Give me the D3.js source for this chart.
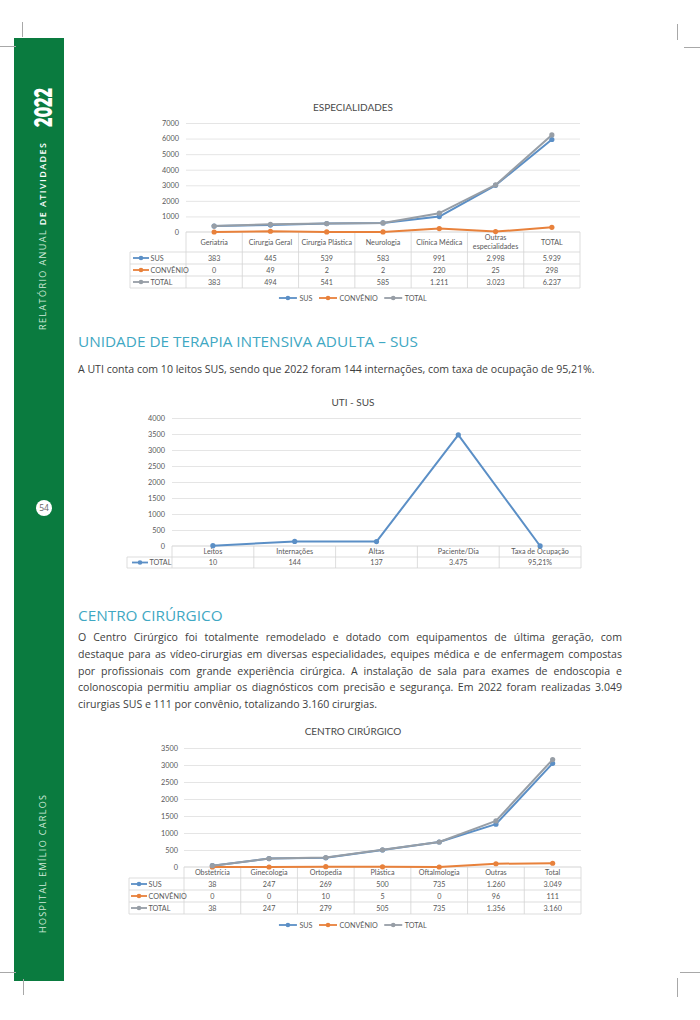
<!DOCTYPE html>
<html><head><meta charset="utf-8">
<script src="https://cdn.jsdelivr.net/npm/d3@7"></script>
<style>body{margin:0;background:#fff}svg{display:block}</style>
</head><body>
<svg id="page" width="700" height="1020"></svg>
<script>
// ---------- DATA ----------
const seriesNames = ["SUS", "CONVÊNIO", "TOTAL"];
const seriesColors = ["#5b8fc6", "#e8813b", "#979ea6"];

const espCategories = ["Geriatria", "Cirurgia Geral", "Cirurgia Plástica", "Neurologia", "Clínica Médica", "Outras especialidades", "TOTAL"];
const espSus   = [383, 445, 539, 583, 991, 2998, 5939];
const espConv  = [0, 49, 2, 2, 220, 25, 298];
const espTotal = [383, 494, 541, 585, 1211, 3023, 6237];
const espTicks = [0, 1000, 2000, 3000, 4000, 5000, 6000, 7000];

const utiCategories = ["Leitos", "Internações", "Altas", "Paciente/Dia", "Taxa de Ocupação"];
const utiTotal  = [10, 144, 137, 3475, 0.9521];
const utiLabels = ["10", "144", "137", "3.475", "95,21%"];
const utiTicks  = [0, 500, 1000, 1500, 2000, 2500, 3000, 3500, 4000];

const ccCategories = ["Obstetrícia", "Ginecologia", "Ortopedia", "Plástica", "Oftalmologia", "Outras", "Total"];
const ccSus   = [38, 247, 269, 500, 735, 1260, 3049];
const ccConv  = [0, 0, 10, 5, 0, 96, 111];
const ccTotal = [38, 247, 279, 505, 735, 1356, 3160];
const ccTicks = [0, 500, 1000, 1500, 2000, 2500, 3000, 3500];

const utiHeading = "UNIDADE DE TERAPIA INTENSIVA ADULTA – SUS";
const utiText = "A UTI conta com 10 leitos SUS, sendo que 2022 foram 144 internações, com taxa de ocupação de 95,21%.";
const ccHeading = "CENTRO CIRÚRGICO";
const ccLines = [
  "O Centro Cirúrgico foi totalmente remodelado e dotado com equipamentos de última geração, com",
  "destaque para as vídeo-cirurgias em diversas especialidades, equipes médica e de enfermagem compostas",
  "por profissionais com grande experiência cirúrgica. A instalação de sala para exames de endoscopia e",
  "colonoscopia permitiu ampliar os diagnósticos com precisão e segurança. Em 2022 foram realizadas 3.049",
  "cirurgias SUS e 111 por convênio, totalizando 3.160 cirurgias."
];

// ---------- SETUP ----------
const ptBR = d3.formatLocale({decimal: ",", thousands: ".", grouping: [3], currency: ["R$", ""]});
const fmt = ptBR.format(",d");
const chartFont = "Lato, 'Open Sans', sans-serif";
const textFont = "'Open Sans', 'Noto Sans', sans-serif";
const svg = d3.select("#page");

// ---------- PAGE DECOR ----------
const green = "#0a7b3f";
svg.append("rect").attr("x", 14).attr("y", 38).attr("width", 50).attr("height", 943).attr("fill", green);

const marks = [
  [22.5, 22, 22.5, 37], [0, 46.5, 16, 46.5],
  [677.5, 24, 677.5, 40], [684, 47.5, 700, 47.5],
  [0, 972.5, 16, 972.5], [23.5, 979, 23.5, 995],
  [680, 972.5, 700, 972.5], [677.5, 978, 677.5, 997]
];
svg.append("g").selectAll("line").data(marks).join("line")
  .attr("x1", d => d[0]).attr("y1", d => d[1]).attr("x2", d => d[2]).attr("y2", d => d[3])
  .attr("stroke", "#a8a8a8").attr("stroke-width", 1);

svg.append("text").attr("transform", "translate(52,127) rotate(-90)")
  .attr("font-family", "Montserrat, 'Open Sans', sans-serif").attr("font-weight", 800)
  .attr("font-size", 25).attr("fill", "#fff")
  .attr("textLength", 39).attr("lengthAdjust", "spacingAndGlyphs").text("2022");

const rel = svg.append("text").attr("transform", "translate(45.5,330) rotate(-90)")
  .attr("font-family", textFont).attr("font-size", 9)
  .attr("textLength", 187).attr("lengthAdjust", "spacing");
rel.append("tspan").attr("fill", "#cfe9d8").text("RELATÓRIO ANUAL ");
rel.append("tspan").attr("fill", "#ffffff").attr("font-weight", 600).text("DE ATIVIDADES");

svg.append("text").attr("transform", "translate(46,933) rotate(-90)")
  .attr("font-family", textFont).attr("font-size", 9).attr("fill", "#cfe9d8")
  .attr("textLength", 138).attr("lengthAdjust", "spacing").text("HOSPITAL EMÍLIO CARLOS");

svg.append("circle").attr("cx", 44).attr("cy", 508).attr("r", 8).attr("fill", "#fff");
svg.append("text").attr("x", 44).attr("y", 511).attr("text-anchor", "middle")
  .attr("font-family", textFont).attr("font-size", 8.5).attr("fill", "#666").text("54");

// ---------- BODY TEXT ----------
function measure(str, size, weight, family) {
  const t = svg.append("text").attr("font-family", family).attr("font-size", size)
    .attr("font-weight", weight || 400).text(str);
  const w = t.node().getComputedTextLength();
  t.remove();
  return w;
}
const headSize = 12 * 340 / measure(utiHeading, 12, 400, textFont);
const bodySize = 10 * 517 / measure(utiText, 10, 400, textFont);
const headColor = "#3fa8c3", bodyColor = "#3d3d3d";

svg.append("text").attr("x", 78).attr("y", 346.5).attr("font-family", textFont)
  .attr("font-size", headSize).attr("fill", headColor).text(utiHeading);
svg.append("text").attr("x", 78).attr("y", 372.5).attr("font-family", textFont)
  .attr("font-size", bodySize).attr("fill", bodyColor).text(utiText);

svg.append("text").attr("x", 78).attr("y", 620.5).attr("font-family", textFont)
  .attr("font-size", headSize).attr("fill", headColor).text(ccHeading);
ccLines.forEach((ln, i) => {
  const t = svg.append("text").attr("x", 78).attr("y", 641 + i * 16.8)
    .attr("font-family", textFont).attr("font-size", bodySize).attr("fill", bodyColor).text(ln);
  if (i < ccLines.length - 1) {
    const L = t.node().getComputedTextLength();
    const n = (ln.match(/ /g) || []).length;
    t.style("word-spacing", ((544 - L) / n) + "px");
  }
});

// ---------- CHARTS ----------
function drawChart(o) {
  const g = svg.append("g");
  const x = d3.scaleBand().domain(o.categories).range([o.x0, o.x1]);
  const y = d3.scaleLinear().domain([0, d3.max(o.ticks)]).range([o.y0, o.yTop]);
  const bw = x.bandwidth();
  const cx = c => x(c) + bw / 2;
  const hs = 7.2;
  const txt = "#595959";

  // title
  g.append("text").attr("x", o.titleX).attr("y", o.titleY).attr("text-anchor", "middle")
    .attr("font-family", chartFont).attr("font-weight", 400).attr("font-size", 10)
    .attr("fill", "#4a4a4a").text(o.title);

  // gridlines
  g.append("g").attr("transform", `translate(${o.x0},0)`)
    .call(d3.axisLeft(y).tickValues(o.ticks.filter(t => t > 0)).tickSize(-(o.x1 - o.x0)).tickFormat(""))
    .call(a => a.select(".domain").remove())
    .call(a => a.selectAll("line").attr("stroke", "#dedede").attr("stroke-width", 0.8));

  // y labels
  g.append("g").attr("transform", `translate(${o.x0},0)`)
    .call(d3.axisLeft(y).tickValues(o.ticks).tickSize(0).tickPadding(o.pad).tickFormat(d3.format("d")))
    .call(a => a.select(".domain").remove())
    .call(a => a.selectAll("text").attr("font-family", chartFont).attr("font-size", 7.3).attr("fill", txt));

  // table
  const n = o.series.length;
  const tableBottom = o.headerBottom + n * o.rowH;
  const tl = g.append("g").attr("stroke", "#d4d4d4").attr("stroke-width", 0.8);
  tl.append("line").attr("x1", o.x0).attr("x2", o.x1).attr("y1", o.y0).attr("y2", o.y0).attr("stroke", "#c8c8c8");
  d3.range(n + 1).forEach(i => {
    const yy = o.headerBottom + i * o.rowH;
    tl.append("line").attr("x1", o.left).attr("x2", o.x1).attr("y1", yy).attr("y2", yy);
  });
  o.categories.concat([null]).forEach(c => {
    const xx = c === null ? o.x1 : x(c);
    tl.append("line").attr("x1", xx).attr("x2", xx).attr("y1", o.y0).attr("y2", tableBottom);
  });
  tl.append("line").attr("x1", o.left).attr("x2", o.left).attr("y1", o.headerBottom).attr("y2", tableBottom);

  // header labels (wrapped if too wide)
  o.categories.forEach(c => {
    let lines = [c];
    if (measure(c, hs, 400, chartFont) > bw - 3) {
      const words = c.split(" ");
      lines = [words[0], words.slice(1).join(" ")];
    }
    const mid = (o.y0 + o.headerBottom) / 2;
    lines.forEach((ln, i) => {
      g.append("text").attr("x", cx(c)).attr("y", mid + (i - (lines.length - 1) / 2) * 8.4 + 2.5)
        .attr("text-anchor", "middle").attr("font-family", chartFont).attr("font-size", hs)
        .attr("fill", txt).text(ln);
    });
  });

  // rows
  o.series.forEach((s, i) => {
    const ym = o.headerBottom + (i + 0.5) * o.rowH;
    const kx = o.left + o.keyOff;
    g.append("line").attr("x1", kx).attr("x2", kx + 16).attr("y1", ym).attr("y2", ym)
      .attr("stroke", s.color).attr("stroke-width", 1.8);
    g.append("circle").attr("cx", kx + 8).attr("cy", ym).attr("r", 2.3).attr("fill", s.color);
    g.append("text").attr("x", kx + 17.5).attr("y", ym + 2.5).attr("font-family", chartFont)
      .attr("font-size", hs).attr("fill", txt).text(s.name);
    o.categories.forEach((c, j) => {
      g.append("text").attr("x", cx(c)).attr("y", ym + 2.5).attr("text-anchor", "middle")
        .attr("font-family", chartFont).attr("font-size", hs).attr("fill", txt)
        .text(s.labels[j]);
    });
  });

  // lines
  const line = d3.line().x((d, j) => cx(o.categories[j])).y(d => y(d));
  o.series.forEach(s => {
    g.append("path").attr("d", line(s.values)).attr("fill", "none")
      .attr("stroke", s.color).attr("stroke-width", 2).attr("stroke-linejoin", "round");
    g.append("g").selectAll("circle").data(s.values).join("circle")
      .attr("cx", (d, j) => cx(o.categories[j])).attr("cy", d => y(d)).attr("r", 2.6).attr("fill", s.color);
  });

  // legend
  if (o.legendY) {
    const items = o.series.map(s => ({s, w: 21 + measure(s.name, hs, 400, chartFont)}));
    const gap = 6;
    const total = d3.sum(items, d => d.w) + gap * (items.length - 1);
    let lx = o.titleX - total / 2;
    items.forEach(it => {
      g.append("line").attr("x1", lx).attr("x2", lx + 18).attr("y1", o.legendY).attr("y2", o.legendY)
        .attr("stroke", it.s.color).attr("stroke-width", 1.8);
      g.append("circle").attr("cx", lx + 9).attr("cy", o.legendY).attr("r", 2.3).attr("fill", it.s.color);
      g.append("text").attr("x", lx + 20.5).attr("y", o.legendY + 2.5).attr("font-family", chartFont)
        .attr("font-size", hs).attr("fill", txt).text(it.s.name);
      lx += it.w + gap;
    });
  }
}

const mk = (vals) => vals.map((v, i) => ({
  name: seriesNames[i], color: seriesColors[i], values: v, labels: v.map(fmt)
}));

drawChart({
  title: "ESPECIALIDADES", titleX: 353, titleY: 110.5,
  categories: espCategories, series: mk([espSus, espConv, espTotal]), ticks: espTicks,
  x0: 186, x1: 580, yTop: 123, y0: 232, left: 130, headerBottom: 252, rowH: 12,
  keyOff: 3, pad: 7, legendY: 298
});

drawChart({
  title: "UTI - SUS", titleX: 353, titleY: 405.5,
  categories: utiCategories,
  series: [{name: "TOTAL", color: seriesColors[0], values: utiTotal, labels: utiLabels}],
  ticks: utiTicks,
  x0: 172, x1: 581, yTop: 418, y0: 546, left: 127, headerBottom: 557, rowH: 11,
  keyOff: 5, pad: 7
});

drawChart({
  title: "CENTRO CIRÚRGICO", titleX: 353, titleY: 734.5,
  categories: ccCategories, series: mk([ccSus, ccConv, ccTotal]), ticks: ccTicks,
  x0: 184, x1: 581, yTop: 748, y0: 867, left: 129, headerBottom: 878, rowH: 12,
  keyOff: 2, pad: 6, legendY: 925
});
</script>
</body></html>
